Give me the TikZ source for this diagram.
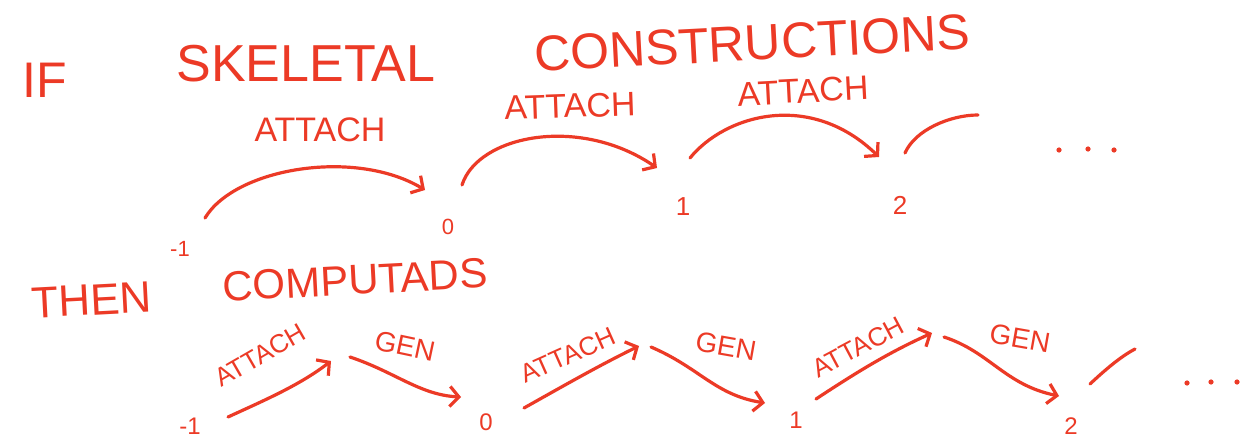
\documentclass[tikz,border=0pt]{standalone}
\usepackage{fontspec}
\setmainfont{Liberation Sans}
\usetikzlibrary{arrows.meta}
\definecolor{ink}{RGB}{236,58,38}
\begin{document}
\begin{tikzpicture}[x=1pt,y=-1pt,
  stroke/.style={draw=ink, line width=3.2pt, line cap=round, line join=round},
  arr/.style={stroke, -{Straight Barb[length=9pt,width=20pt]}},
  lbl/.style={text=ink, inner sep=0pt, font=\fontsize{#1}{#1}\selectfont},
  dot/.style={fill=ink}
 ]
\fill[white] (0,0) rectangle (1241,438);
\useasboundingbox (0,0) rectangle (1241,438);

% title lines
\node[lbl=50] (tif) at (45,80) {IF};
\node[lbl=52] (tsk) at (306,64) {SKELETAL};
\node[lbl=50, rotate=3] (tcon) at (752,43) {CONSTRUCTIONS};
\node[lbl=44, rotate=3] (then) at (92,300) {THEN};
\node[lbl=42, rotate=3] (comp) at (355,280) {COMPUTADS};

% top row
\node[lbl=22] (tm1) at (180,249) {-1};
\node[lbl=22] (t0) at (448,227) {0};
\node[lbl=26] (t1) at (683,207) {1};
\node[lbl=26] (t2) at (900,205) {2};

\coordinate (a1s) at (205,218); \coordinate (a1e) at (425,190);
\coordinate (a2s) at (462,185); \coordinate (a2e) at (657,168);
\coordinate (a3s) at (690,158); \coordinate (a3e) at (879,157);
\coordinate (a4s) at (905,153); \coordinate (a4e) at (978,115);
\draw[arr] (a1s) .. controls (235,168) and (355,148) .. (a1e);
\draw[arr] (a2s) .. controls (478,135) and (580,115) .. (a2e);
\draw[arr] (a3s) .. controls (725,115) and (810,90) .. (a3e);
\draw[stroke] (a4s) .. controls (915,130) and (950,115) .. (a4e);

\node[lbl=34] (la1) at (320,130) {ATTACH};
\node[lbl=34, rotate=2] (la2) at (570,106) {ATTACH};
\node[lbl=34, rotate=3] (la3) at (803,91) {ATTACH};

\fill[dot] (1059,150) circle (2.6pt);
\fill[dot] (1088,149) circle (2.6pt);
\fill[dot] (1114,150) circle (2.6pt);

% bottom row
\node[lbl=24] (bm1) at (190,426) {-1};
\node[lbl=24] (b0) at (486,422) {0};
\node[lbl=24] (b1) at (796,420) {1};
\node[lbl=24] (b2) at (1071,426) {2};

\coordinate (c1s) at (228,417); \coordinate (c1e) at (331,361);
\coordinate (g1s) at (350,357); \coordinate (g1e) at (461,397);
\coordinate (c2s) at (524,408); \coordinate (c2e) at (639,346);
\coordinate (g2s) at (651,347); \coordinate (g2e) at (765,403);
\coordinate (c3s) at (816,399); \coordinate (c3e) at (932,333);
\coordinate (g3s) at (944,337); \coordinate (g3e) at (1059,396);
\coordinate (l4s) at (1090,384); \coordinate (l4e) at (1135,349);

\draw[arr] (c1s) .. controls (265,400) and (300,385) .. (c1e);
\draw[arr] (g1s) .. controls (395,372) and (420,395) .. (g1e);
\draw[arr] (c2s) .. controls (565,385) and (600,365) .. (c2e);
\draw[arr] (g2s) .. controls (700,368) and (715,395) .. (g2e);
\draw[arr] (c3s) .. controls (860,370) and (890,352) .. (c3e);
\draw[arr] (g3s) .. controls (990,352) and (1005,385) .. (g3e);
\draw[stroke] (l4s) .. controls (1105,370) and (1120,357) .. (l4e);

\node[lbl=26, rotate=30] (lb1) at (260,355) {ATTACH};
\node[lbl=28, rotate=-12] (lg1) at (405,346) {GEN};
\node[lbl=26, rotate=24] (lb2) at (568,355) {ATTACH};
\node[lbl=28, rotate=-10] (lg2) at (726,346) {GEN};
\node[lbl=26, rotate=28] (lb3) at (858,347) {ATTACH};
\node[lbl=28, rotate=-10] (lg3) at (1020,338) {GEN};

\fill[dot] (1187,383) circle (2.6pt);
\fill[dot] (1211,382) circle (2.6pt);
\fill[dot] (1237,382) circle (2.6pt);
\end{tikzpicture}
\end{document}
